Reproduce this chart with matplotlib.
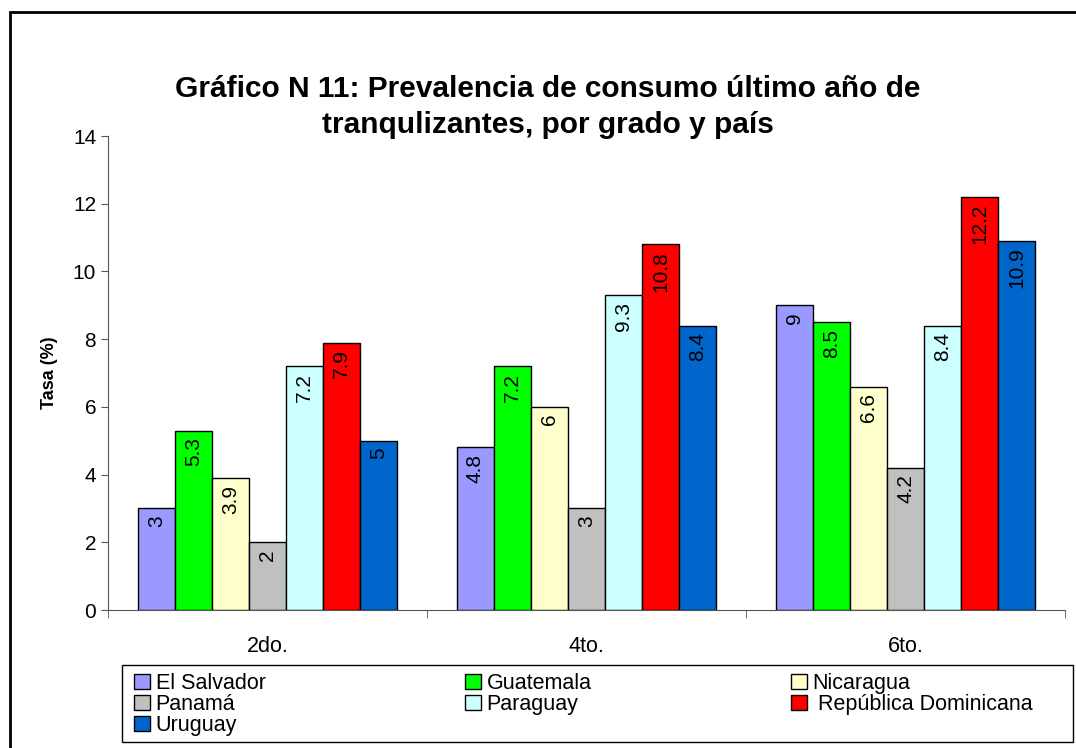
import numpy as np
import matplotlib
matplotlib.use("Agg")
import matplotlib.pyplot as plt
from matplotlib.patches import Rectangle

plt.rcParams["font.family"] = ["Liberation Sans", "DejaVu Sans"]

grados = ["2do.", "4to.", "6to."]
paises = ["El Salvador", "Guatemala", "Nicaragua", "Panamá", "Paraguay",
          " República Dominicana", "Uruguay"]
el_salvador = [3, 4.8, 9]
guatemala = [5.3, 7.2, 8.5]
nicaragua = [3.9, 6, 6.6]
panama = [2, 3, 4.2]
paraguay = [7.2, 9.3, 8.4]
rep_dominicana = [7.9, 10.8, 12.2]
uruguay = [5, 8.4, 10.9]
series = [el_salvador, guatemala, nicaragua, panama, paraguay, rep_dominicana, uruguay]
colores = ["#9999FF", "#00FF00", "#FFFFCC", "#C0C0C0", "#CCFFFF", "#FF0000", "#0066CC"]

W, H = 1076, 748
fig = plt.figure(figsize=(W / 100, H / 100), dpi=100)
# outer frame (runs off the right/bottom edges like the source)
fig.patches.append(Rectangle((10 / W, -0.05), 1.2, 1 - 12 / H + 0.05,
                             transform=fig.transFigure, fill=False,
                             edgecolor="black", linewidth=2))

ax = fig.add_axes([108 / W, 1 - 610 / H, (1065 - 108) / W, (610 - 136) / H])

n = len(series)
w = 0.116
x = np.arange(len(grados))
handles = []
for i, (vals, c) in enumerate(zip(series, colores)):
    pos = x - w * n / 2 + w * (i + 0.5)
    bars = ax.bar(pos, vals, width=w, color=c, edgecolor="black", linewidth=1.0,
                  label=paises[i])
    handles.append(bars)
    for b, v in zip(bars, vals):
        ax.text(b.get_x() + b.get_width() / 2, v - 0.2, f"{v:g}",
                rotation=90, ha="center", va="top", fontsize=15)

ax.set_xlim(-0.5, len(grados) - 0.5)
ax.set_ylim(0, 14)
ax.set_yticks(range(0, 15, 2))
ax.set_xticks(x)
ax.set_xticklabels(grados, fontsize=15.5)
ax.set_xticks(np.arange(len(grados) + 1) - 0.5, minor=True)
ax.tick_params(axis="x", which="major", length=0, pad=19)
ax.tick_params(axis="x", which="minor", length=6, color="#555555")
ax.tick_params(axis="y", labelsize=15, length=5, color="#555555")
for s in ["top", "right"]:
    ax.spines[s].set_visible(False)
for s in ["left", "bottom"]:
    ax.spines[s].set_color("#555555")

ax.set_ylabel("Tasa (%)", fontsize=13, fontweight="bold", labelpad=11)

fig.text(548 / W, 1 - 107 / H,
         "Gráfico N 11: Prevalencia de consumo último año de\ntranqulizantes, por grado y país",
         ha="center", va="center", fontsize=21.5, fontweight="bold", linespacing=1.38)

# legend: row-major order in 3 columns -> reorder for matplotlib's column fill
orden = [0, 3, 6, 1, 4, 2, 5]
leg = fig.legend([handles[k] for k in orden], [paises[k] for k in orden],
                 loc="upper left",
                 bbox_to_anchor=(134 / W, 1 - 673 / H, (1033 - 134) / W, 1e-9),
                 ncol=3, mode="expand", fontsize=15.5, frameon=False,
                 handlelength=0.75, handleheight=0.75, handletextpad=0.25,
                 borderpad=0, labelspacing=0.0, borderaxespad=0, columnspacing=1)
fig.patches.append(Rectangle((122 / W, 1 - 742 / H), (1073 - 122) / W, (742 - 665) / H,
                             transform=fig.transFigure, fill=False,
                             edgecolor="black", linewidth=1.0))

fig.savefig("out.png", dpi=100)
